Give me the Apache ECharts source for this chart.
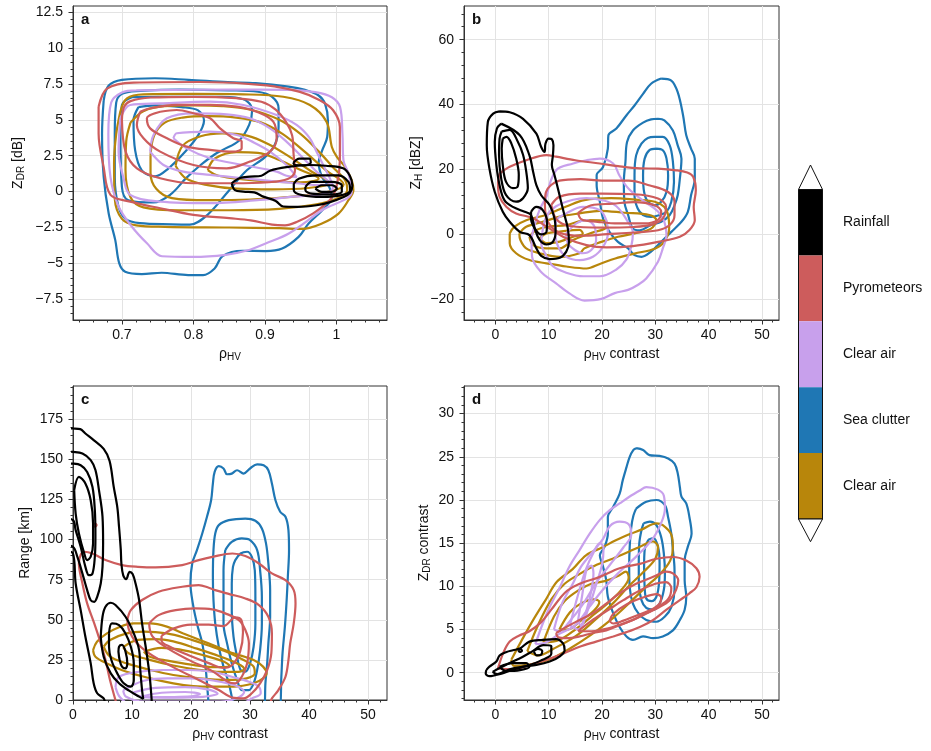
<!DOCTYPE html>
<html><head><meta charset="utf-8">
<script src="https://cdn.jsdelivr.net/npm/echarts@6/dist/echarts.min.js"></script>
<style>html,body{margin:0;padding:0;background:#fff}#c{width:931px;height:751px}</style>
</head><body><div id="c"></div>
<script>
// ---------------- tick labels ----------------
const aXTicks = [0.7, 0.8, 0.9, 1];
const aYTicks = [-7.5, -5, -2.5, 0, 2.5, 5, 7.5, 10, 12.5];
const bXTicks = [0, 10, 20, 30, 40, 50];
const bYTicks = [-20, 0, 20, 40, 60];
const cXTicks = [0, 10, 20, 30, 40, 50];
const cYTicks = [0, 25, 50, 75, 100, 125, 150, 175];
const dXTicks = [0, 10, 20, 30, 40, 50];
const dYTicks = [0, 5, 10, 15, 20, 25, 30];
const classNames = ['Rainfall', 'Pyrometeors', 'Clear air', 'Sea clutter', 'Clear air'];

// ---------------- panel a : rhoHV vs ZDR ----------------
const aSea = [
 [[0.6745,6.34],[0.6815,7.38],[0.70,7.78],[0.746,7.89],[0.793,7.78],[0.848,7.62],[0.887,7.55],[0.933,7.31],[0.956,7.08],[0.975,6.69],[0.984,6.11],[0.988,4.95],[0.987,3.8],[0.98,2.87],[0.975,2.0],[0.98,1.0],[0.99,0.3],[0.9935,-0.37],[0.98,-1.3],[0.961,-2.22],[0.947,-3.15],[0.924,-3.96],[0.901,-4.14],[0.8685,-4.12],[0.8407,-4.49],[0.8296,-5.35],[0.8134,-5.81],[0.7926,-5.81],[0.7556,-5.65],[0.7278,-5.74],[0.7046,-5.58],[0.6963,-5.0],[0.6907,-3.38],[0.6815,-1.53],[0.6745,1.02],[0.6722,4.03]],
 [[0.72,7.0],[0.70,6.8],[0.692,6.2],[0.69,4.0],[0.69,1.0],[0.695,-1.0],[0.705,-1.9],[0.725,-2.2],[0.77,-2.28],[0.795,-2.3],[0.82,-1.6],[0.85,0.1],[0.875,1.5],[0.9,2.4],[0.914,3.3],[0.919,4.5],[0.919,5.8],[0.91,6.6],[0.89,6.95],[0.85,7.05],[0.78,7.1]],
 [[0.714,6.57],[0.70,6.04],[0.698,3.9],[0.70,0.32],[0.709,-0.6],[0.744,-0.76],[0.768,-0.2],[0.789,0.9],[0.81,1.85],[0.83,2.6],[0.841,2.9],[0.864,3.56],[0.878,4.66],[0.882,5.65],[0.8755,6.27],[0.859,6.55],[0.84,6.6],[0.80,6.6],[0.75,6.6]],
 [[0.7231,5.88],[0.7162,4.95],[0.7185,2.87],[0.7278,1.48],[0.7463,1.06],[0.7648,1.6],[0.788,2.75],[0.8065,3.91],[0.8148,4.95],[0.8065,5.65],[0.7833,5.88],[0.7463,6.0]]
];
const aClear2 = [
 [[0.6977,5.56],[0.707,6.49],[0.7302,6.77],[0.80,6.8],[0.8698,6.77],[0.9256,6.6],[0.9628,6.03],[0.986,4.87],[0.9935,3.1],[1.0005,2.41],[1.012,1.71],[1.0213,0.79],[1.0236,0.09],[1.0167,-0.6],[1.0028,-1.53],[0.9796,-2.22],[0.9519,-2.6],[0.92,-2.55],[0.85,-2.5],[0.76,-2.45],[0.72,-2.35],[0.70,-1.9],[0.69,-0.5],[0.689,2.0],[0.692,4.0]],
 [[0.712,4.8],[0.73,5.6],[0.76,5.95],[0.80,6.0],[0.84,5.95],[0.88,5.7],[0.92,5.0],[0.95,4.0],[0.975,2.8],[0.995,1.7],[1.012,0.8],[1.015,0.1],[1.0,-0.5],[0.97,-0.9],[0.92,-1.2],[0.85,-1.3],[0.78,-1.3],[0.73,-1.1],[0.712,-0.4],[0.705,1.5],[0.706,3.5]],
 [[0.74,2.5],[0.745,3.9],[0.76,4.8],[0.785,5.15],[0.82,5.25],[0.86,5.15],[0.895,4.8],[0.925,4.0],[0.955,2.8],[0.985,1.5],[1.01,0.5],[0.99,0.0],[0.94,-0.35],[0.88,-0.55],[0.82,-0.6],[0.77,-0.45],[0.748,0.2],[0.74,1.3]],
 [[0.775,1.8],[0.785,3.2],[0.81,3.85],[0.84,4.05],[0.875,3.9],[0.905,3.3],[0.935,2.4],[0.965,1.4],[0.99,0.6],[0.96,0.25],[0.91,0.15],[0.86,0.2],[0.82,0.45],[0.79,0.9]],
 [[0.82,1.5],[0.83,2.3],[0.86,2.75],[0.89,2.7],[0.92,2.2],[0.95,1.5],[0.975,0.9],[0.95,0.65],[0.91,0.7],[0.87,0.85],[0.835,1.1]]
];
const aClear = [
 [[0.72,7.05],[0.70,6.9],[0.685,6.2],[0.681,4.0],[0.684,1.0],[0.695,-1.0],[0.714,-2.45],[0.735,-3.6],[0.756,-4.5],[0.80,-4.55],[0.845,-4.4],[0.875,-4.1],[0.9009,-3.61],[0.9333,-2.92],[0.9796,-1.3],[1.0213,-0.02],[1.0167,1.25],[1.0097,2.18],[1.0083,4.03],[1.005,5.88],[0.9935,6.57],[0.9704,6.92],[0.9333,7.08],[0.85,7.1]],
 [[0.6977,5.1],[0.7116,6.03],[0.7535,6.14],[0.8233,6.26],[0.8698,6.03],[0.9163,5.33],[0.9442,4.64],[0.9628,3.71],[0.9721,2.78],[0.9814,1.85],[0.9907,0.93],[0.995,0.3],[0.986,-0.12],[0.9395,-0.35],[0.893,-0.58],[0.8233,-0.81],[0.7535,-0.7],[0.7116,-0.23],[0.7023,0.93],[0.6953,2.78]],
 [[0.7395,2.78],[0.7442,3.94],[0.7628,5.1],[0.80,5.45],[0.8465,5.38],[0.879,5.1],[0.907,4.4],[0.93,3.48],[0.9535,2.32],[0.9721,1.39],[0.9907,0.58],[0.9721,0.46],[0.9442,0.58],[0.9163,0.7],[0.8698,0.93],[0.8233,1.16],[0.786,1.39],[0.7581,1.85]],
 [[0.772,3.71],[0.7767,4.06],[0.8233,4.17],[0.8605,3.94],[0.885,3.4],[0.907,2.78],[0.93,1.85],[0.9442,1.0],[0.93,1.1],[0.9163,1.39],[0.8698,1.85],[0.8233,2.32],[0.7906,3.01]]
];
const aPyro = [
 [[0.6674,5.9],[0.6791,7.17],[0.7163,7.59],[0.8093,7.63],[0.9023,7.4],[0.9488,6.94],[0.9767,6.36],[0.9953,5.66],[1.0047,4.5],[1.0047,2.19],[1.0,0.33],[0.9907,-0.59],[0.9674,-1.52],[0.945,-2.1],[0.928,-2.35],[0.91,-2.3],[0.88,-2.0],[0.85,-1.85],[0.80,-1.62],[0.7535,-1.16],[0.7116,-0.7],[0.684,-0.23],[0.6744,1.72],[0.6674,4.04]],
 [[0.70,5.0],[0.703,5.9],[0.712,6.3],[0.74,6.55],[0.80,6.6],[0.86,6.5],[0.895,6.25],[0.915,5.7],[0.93,4.8],[0.938,3.9],[0.94,2.6],[0.942,1.5],[0.935,0.95],[0.9163,0.7],[0.87,0.58],[0.80,0.58],[0.7535,0.93],[0.721,1.62],[0.705,2.8]],
 [[0.7256,5.56],[0.7209,4.64],[0.7302,3.71],[0.7535,2.78],[0.80,1.85],[0.8465,1.62],[0.879,2.09],[0.907,2.78],[0.9163,3.71],[0.9116,4.87],[0.8884,5.56],[0.8605,5.91],[0.8233,6.03],[0.7767,6.03],[0.7395,5.8]],
 [[0.7535,5.56],[0.7767,5.68],[0.80,5.45],[0.8233,5.1],[0.8372,4.4],[0.8558,3.71],[0.8674,3.48],[0.8674,3.01],[0.8558,2.78],[0.8233,2.9],[0.7906,3.13],[0.763,3.71],[0.7395,4.4],[0.7349,5.1]]
];
const aRain = [
 [[0.8535,0.58],[0.865,0.95],[0.879,1.04],[0.895,1.1],[0.907,1.45],[0.93,1.7],[0.9628,1.85],[0.985,1.8],[1.0093,1.62],[1.0186,1.1],[1.0222,0.4],[1.0186,-0.1],[1.0093,-0.4],[0.99,-0.75],[0.972,-0.95],[0.945,-1.06],[0.9256,-1.04],[0.915,-0.65],[0.8977,-0.35],[0.885,-0.05],[0.8698,0.0],[0.858,0.1]],
 [[0.9395,2.0],[0.948,2.3],[0.962,2.3],[0.964,2.0],[0.955,1.82],[0.942,1.85]],
 [[0.9403,0.56],[0.9472,0.9],[0.9704,1.13],[1.0028,1.13],[1.0167,0.67],[1.019,0.09],[1.0074,-0.25],[0.9796,-0.37],[0.9519,-0.25],[0.9403,0.09]],
 [[0.9565,0.32],[0.9657,0.67],[0.9935,0.67],[1.0074,0.44],[1.0074,-0.02],[0.9935,-0.2],[0.9657,-0.14],[0.9565,0.09]],
 [[0.9704,0.21],[0.9796,0.44],[0.9935,0.44],[1.0005,0.21],[0.9935,-0.02],[0.9796,-0.02]]
];

// ---------------- panel b : rhoHV contrast vs ZH ----------------
const bSea = [
 [[31.1,48.0],[33.0,47.4],[34.2,43.8],[35.2,36.7],[35.8,30.5],[36.7,26.4],[37.4,23.3],[37.4,17.1],[36.7,12.0],[36.1,6.9],[34.9,3.8],[33.0,0.7],[31.1,-2.4],[29.2,-5.4],[27.4,-7.0],[26.1,-6.5],[24.9,-4.4],[23.0,-2.4],[21.4,0.7],[20.2,4.8],[19.6,10.0],[19.0,15.1],[19.0,18.2],[20.2,20.7],[21.1,26.4],[21.2,30.5],[22.7,32.6],[24.6,36.7],[26.1,39.7],[27.7,43.3],[29.2,46.4]],
 [[30.5,35.6],[31.7,35.1],[33.3,32.0],[34.2,27.4],[34.9,23.3],[34.6,17.1],[34.2,12.0],[33.6,8.9],[32.7,5.9],[31.1,3.8],[29.2,2.8],[27.1,1.2],[25.8,1.7],[24.9,5.9],[24.2,10.0],[24.1,16.1],[24.4,22.3],[24.7,28.4],[25.8,32.0],[27.7,34.4],[29.2,35.4]],
 [[29.9,30.0],[31.4,30.0],[32.7,27.4],[33.3,22.3],[33.5,16.1],[33.0,10.0],[32.1,6.9],[30.8,5.9],[29.2,5.3],[27.7,5.9],[26.7,7.9],[26.1,12.0],[26.1,18.2],[26.4,24.3],[27.4,27.9],[28.6,29.7]],
 [[30.2,26.4],[31.4,25.9],[32.1,23.3],[32.4,18.2],[32.1,13.0],[31.1,10.0],[29.9,8.9],[28.6,10.0],[27.9,13.0],[27.7,18.2],[28.0,23.3],[28.9,25.9]]
];
const bClear2 = [
 [[2.7,0.2],[3.6,2.3],[5.8,4.3],[9.6,6.0],[13.3,8.5],[16.7,10.5],[21.7,11.1],[26.7,10.6],[29.9,10.0],[31.7,8.4],[32.4,5.9],[32.6,1.7],[31.6,-2.5],[29.9,-4.5],[26.1,-6.0],[22.5,-7.5],[19.6,-9.2],[17.1,-10.6],[13.3,-10.0],[9.6,-9.0],[6.4,-8.0],[3.9,-5.9],[2.7,-2.8]],
 [[4.5,0.2],[5.8,2.3],[8.9,3.8],[12.1,5.4],[15.8,6.4],[19.6,7.2],[24.2,6.6],[28.9,5.9],[30.2,4.3],[29.2,1.7],[26.1,0.2],[23.0,-0.8],[19.9,-2.4],[16.7,-4.4],[15.8,-5.9],[12.1,-7.0],[8.3,-5.9],[5.8,-4.4],[4.7,-1.8]],
 [[6.4,-0.8],[7.7,1.3],[10.2,2.3],[13.3,2.8],[17.1,4.3],[20.8,4.1],[20.8,2.3],[17.7,0.2],[14.6,-1.8],[12.1,-4.4],[9.6,-4.4],[7.1,-3.4]],
 [[8.3,-1.3],[9.6,0.2],[12.1,0.8],[15.8,1.3],[16.4,0.2],[14.6,-0.8],[12.1,-2.3],[9.6,-2.8]]
];
const bClear = [
 [[9.6,11.5],[11.4,19.7],[14.6,21.8],[17.1,22.8],[19.6,23.3],[22.1,21.8],[23.3,18],[25,14],[28,10],[30.5,7],[31.7,3.8],[32.1,-0.3],[31.4,-4.4],[30.5,-8.5],[28.3,-13.7],[26.7,-15.7],[24.9,-17.2],[22.4,-18.2],[19.9,-20.0],[16.7,-20.5],[13.9,-18.3],[11.4,-15.2],[8.5,-11.5],[6.9,-7.0],[6.8,-2.0],[7.5,3.5],[8.3,7.5]],
 [[8.8,0.4],[9.6,5.5],[11.4,8.6],[14.6,10.6],[17.1,11.1],[20.5,10.3],[22.7,8.6],[24.6,4.5],[25.8,0.4],[25.5,-3.7],[24.6,-7.8],[22.7,-10.9],[19.6,-13.0],[16.5,-13.0],[13.3,-11.9],[10.8,-9.9],[9.6,-6.8],[8.6,-2.7]],
 [[11.2,0.2],[11.5,4.3],[13.3,6.4],[16.4,8.4],[19.6,7.4],[20.8,4.3],[21.1,0.2],[20.2,-3.9],[18.3,-7.0],[15.8,-8.0],[13.3,-7.0],[11.8,-3.9]],
 [[13.3,0.2],[15.2,3.3],[17.1,4.3],[18.6,2.3],[18.9,-1.8],[18.0,-4.9],[16.4,-5.9],[14.9,-4.9],[13.6,-2.8]]
];
const bPyro = [
 [[0.8,18.7],[2.7,20.8],[5.8,22.8],[9.6,24.4],[11.4,23.9],[15,22.8],[19.6,21.8],[23,21],[27.1,20.3],[30.5,20.2],[33.9,19.7],[36,19],[37.1,17.7],[37.6,13.6],[37.2,8.4],[37.4,4.3],[36.4,1.3],[34.6,-0.8],[30.8,-2.3],[25.8,-3.7],[20.8,-4.1],[17.1,-3.4],[13.3,-1.3],[9.6,2.3],[7.1,4.9],[3.9,6.4],[2.1,8.4],[0.8,11.5],[0.5,15.6]],
 [[9.3,9],[9.5,13],[12,16.5],[16,17],[20,16.5],[25,16.5],[29,15],[32.4,13],[33.6,10],[33.6,5.8],[32.7,2.8],[30.5,1.2],[26,0.5],[21,0],[16,-0.5],[12,0.5],[9.8,4]],
 [[10.5,9],[12,11.5],[16,12.5],[20,12.5],[26,12.3],[30.5,11],[32,8.5],[31.5,5],[29.5,3],[26,2.2],[20,2],[14,2.5],[11.5,4.5]],
 [[15.5,6.5],[18,8.9],[22,9.4],[26,9.9],[29.9,8.9],[31.1,6.9],[30.5,4.4],[28,3.3],[23,3.3],[19.2,3.8],[16.2,4.5]]
];
const bRain = [
 [[0.8,37.9],[2.7,37.6],[5.2,35.6],[7.7,31.0],[8.6,26.9],[9.25,25.4],[9.4,27.9],[10.0,29.5],[10.6,29.3],[10.9,27.4],[10.8,24.3],[10.6,21.3],[11.1,18.2],[11.9,13.0],[12.8,6.9],[13.6,1.7],[13.8,-2.4],[13.3,-5.4],[12.1,-7.3],[10.2,-7.7],[8.6,-6.7],[7.7,-4.4],[6.4,-0.3],[4.6,0.7],[2.7,3.8],[1.4,6.9],[-0.1,13.0],[-1.1,20.2],[-1.6,27.4],[-1.4,34.6],[-0.4,37.2]],
 [[1.1,34.1],[4.6,30.5],[6.4,24.3],[7.1,19.2],[7.7,15.1],[8.6,12.0],[10.2,8.9],[11.1,4.8],[11.3,0.7],[10.8,-2.4],[9.6,-3.2],[8.3,-1.8],[7.4,1.7],[6.7,5.9],[5.5,6.9],[3.3,8.4],[1.7,10.5],[0.8,15.1],[0.2,21.3],[-0.1,28.4],[0.3,32.6]],
 [[1.2,31.7],[2.7,32.2],[4.2,28.6],[5.2,24.5],[5.8,19.3],[6.1,14.2],[5.2,11.1],[3.9,10.0],[2.0,12.1],[1.1,17.2],[0.7,24.4],[0.8,29.5]],
 [[1.4,29.5],[2.1,30.0],[3.0,28.0],[3.9,23.4],[4.4,18.3],[4.2,14.7],[3.3,14.2],[2.0,16.2],[1.4,21.3],[1.2,26.4]],
 [[6.7,6.9],[7.7,8.4],[8.9,7.4],[9.7,3.8],[9.6,0.7],[8.6,-0.1],[7.4,1.7],[6.7,4.8]]
];

// ---------------- panel c : rhoHV contrast vs range ----------------
const cSea = [
 [[23.0,-4],[22.7,10.4],[22.4,22.8],[21.9,35.3],[21.0,47.7],[20.3,60.2],[19.9,72.6],[20.2,85.1],[21.0,93.4],[21.9,103.8],[22.7,114.2],[23.4,124.5],[23.7,134.9],[24.0,142.2],[24.7,145.7],[25.5,144.3],[26.1,140.7],[26.9,141.1],[27.8,143.2],[28.9,141.1],[30.0,144.3],[31.2,146.9],[32.3,146.3],[33.1,143.2],[33.7,134.9],[34.3,124.5],[35.1,117.3],[36.0,114.2],[36.5,105.9],[36.6,93.4],[36.4,76.8],[36.2,62.3],[35.9,45.7],[35.5,29.1],[35.3,14.5],[35.0,-4]],
 [[27.2,-4],[26.4,10.4],[25.5,20.8],[24.7,33.2],[24.1,47.7],[23.8,62.3],[23.7,76.8],[23.8,93.4],[24.1,103.8],[24.7,109.0],[26.4,112.1],[29.2,113.1],[30.9,111.7],[32.0,106.9],[32.7,97.6],[33.1,85.1],[33.4,68.5],[33.4,51.9],[33.1,35.3],[32.9,22.8],[32.6,10.4],[32.4,-4]],
 [[25.8,93.4],[26.9,98.6],[28.6,100.7],[30.0,99.6],[31.2,93.4],[31.7,80.9],[32.0,64.3],[32.0,47.7],[31.7,31.1],[31.2,18.7],[30.6,10.4],[29.8,6.2],[28.6,6.2],[27.8,12.5],[26.9,22.8],[26.1,35.3],[25.5,47.7],[25.5,64.3],[25.5,80.9]],
 [[27.5,87.2],[28.4,91.3],[29.5,92.4],[30.3,89.2],[30.8,80.9],[30.9,64.3],[30.9,47.7],[30.6,33.2],[30.0,22.8],[29.2,17.6],[28.4,18.7],[27.8,27.0],[27.2,39.4],[26.9,56.0],[26.9,72.6],[27.1,83.0]]
];
const cClear2 = [
 [[3.4,31.1],[4.06,36.3],[5.75,41.5],[8.0,45.7],[10.3,47.7],[13.1,47.7],[15.9,45.7],[18.7,41.5],[21.5,37.4],[24.4,33.2],[27.2,29.1],[30.6,24.9],[32.2,20.8],[32.8,16.6],[32.2,13.5],[30.6,10.4],[27.2,8.3],[23.8,8.3],[20.4,8.7],[17.0,10.4],[13.1,13.5],[9.1,17.6],[5.75,22.8],[3.8,27.0]],
 [[5.2,33.2],[6.3,37.4],[9.1,41.5],[12.0,42.6],[15.9,41.5],[19.3,38.4],[22.7,34.3],[26.0,30.1],[28.9,24.9],[30.6,20.8],[30.8,16.6],[29.4,13.5],[26.0,12.5],[21.5,13.5],[17.0,15.6],[13.1,18.7],[9.1,22.8],[6.3,27.0]],
 [[8.5,33],[11,37.5],[14,38],[17,36.5],[21,32],[25,27],[28,22.5],[29,19.5],[28,17.5],[25,17.5],[21,19],[17,21.5],[12.5,25.5],[9.5,29]],
 [[12,30],[15,32.5],[18,31.5],[22,28],[25.5,24],[26.5,21.5],[24,20.5],[20,22],[16,24.5],[13,27]]
];
const cClear = [
 [[7.2,8],[7.8,14.5],[11.2,17.6],[15.1,18.7],[19.6,18.7],[23.6,17.6],[26.9,14.5],[29.8,11.4],[31.5,8.3],[31.8,4.2],[30.3,1.0],[28,-3],[10,-3],[8,1.5]],
 [[8.5,6],[12,12],[16,13.5],[20,13.5],[24,12],[27.5,9],[29,5],[28,1.5],[25,-1],[12,-1],[9,2]],
 [[10,4.5],[14,7.5],[19,8],[23,6.5],[24.5,4],[22,2],[17,1.5],[12,1.8]],
 [[12,2.5],[15,4.5],[19,5],[21.5,3.8],[20,2.2],[16,1.8],[13,1.7]]
];
const cPyro = [
 [[7.5,-4],[6.3,12],[5.5,25],[4.7,35.3],[3.6,47.7],[2.4,60.2],[1.6,72.6],[1.0,85],[1.3,90.5],[1.9,92.4],[3.3,91.3],[5.5,87.2],[8.3,84.1],[11,83],[14.0,82.6],[18.5,84.1],[21.3,87.2],[23.6,89.2],[27.0,91.3],[29.2,89.7],[31.5,85.1],[33.7,78.9],[36.0,74.7],[37.4,68.5],[37.7,60.2],[37.4,47.7],[36.8,35.3],[36.5,24.9],[36.0,14.5],[34.8,6.2],[33.7,1.0],[33.0,-4]],
 [[9.2,49.8],[9.8,56.0],[11.7,62.3],[14.5,67.5],[18.5,70.6],[21.3,71.6],[23.0,70],[24.1,68.5],[26.5,66],[29.2,63.3],[31.5,59.2],[33.1,51.9],[33.7,41.5],[33.6,29.1],[32.9,18.7],[31.7,10.4],[30.3,4.2],[28.9,1.0],[27,1.5],[24.7,6.2],[21.3,12.5],[16.8,20.8],[12.9,29.1],[10.6,36.3],[9.5,43.6]],
 [[12.9,47.7],[14.5,52.9],[17.4,56.0],[20.7,57.1],[23.6,56.5],[25.8,54.0],[28.1,49.8],[29.2,43.6],[29.8,35.3],[29.5,22.8],[28.6,14.5],[27.5,10.4],[26.4,11],[23.6,18],[19.6,25],[15.7,33],[13.4,40]],
 [[15,40],[17,44.5],[20,47],[23,47],[25.5,46],[27.5,51.5],[28.5,50],[28.8,42],[28.3,30],[27,22],[25.5,20],[23,23],[19.5,28],[16.5,33],[15,37]],
 [[3.4,109],[3.7,110],[4.0,109],[3.7,108]]
];
const cRain = [
 [[-2,169.5],[0,169.2],[1.24,168.8],[2.1,166.1],[3.5,162.0],[5.2,156.5],[6.2,149],[6.9,132.8],[7.5,120.4],[7.8,107.9],[8.1,93.4],[8.2,85.1],[8.5,77.8],[9.0,75.3],[9.6,79.9],[10.1,78.5],[10.6,72.6],[11.2,62.3],[11.7,47.7],[12.4,31.1],[13.0,14.5],[13.4,-4],[5.8,-4],[5.2,1.0],[4.1,4.2],[3.5,10.4],[3.0,22.8],[2.1,39.4],[1.3,56.0],[0.45,72.6],[0,91.3],[-2,95]],
 [[-2,155],[0,154.6],[1.6,153.6],[3.0,149.5],[3.8,143.3],[4.4,130.8],[5.0,114.2],[5.1,97.6],[5.0,83.0],[4.7,72.6],[4.1,64.3],[3.6,61.2],[3.0,62.2],[2.4,68.5],[1.6,78.8],[0.73,89.3],[0,95.5],[-2,98]],
 [[-2,147.5],[0,147.3],[1.3,146.3],[2.4,142.1],[3.3,132.8],[3.7,118.3],[3.8,101.7],[3.7,89.3],[3.3,78.8],[2.7,77.8],[2.1,83.0],[1.3,95.5],[0.45,105.9],[0,112.1],[-2,115]],
 [[0.2,130.8],[1.0,139.1],[2.1,134.9],[3.0,124.5],[3.4,110.0],[3.4,97.6],[3.0,89.3],[2.4,87.2],[1.9,91.4],[1.0,103.8],[0.45,116.2]],
 [[4.7,39.4],[5.0,51.9],[5.5,58.1],[6.4,60.6],[7.2,59.2],[8.9,51.9],[10.3,41.5],[11.2,31.1],[11.4,18.7],[11.7,6.2],[11.9,0.8],[11.2,2.1],[9.5,5.8],[7.8,10.4],[6.4,16.6],[5.2,27.0]],
 [[6.1,41.5],[6.6,47.7],[7.8,46.7],[8.9,41.5],[9.8,33.2],[10.3,22.8],[10.3,12.5],[9.8,8.3],[8.6,10.4],[7.5,16.6],[6.5,24.9],[6.1,33.2]],
 [[7.7,30.1],[7.8,33.2],[8.3,34.3],[8.9,30.1],[9.2,22.8],[8.9,19.7],[8.3,20.8],[7.9,24.9]]
];

// ---------------- panel d : rhoHV contrast vs ZDR contrast ----------------
const dSea = [
 [[26.4,26.0],[27.7,25.8],[28.9,25.2],[30.8,25.1],[32.4,24.8],[33.6,24.2],[34.2,23.1],[34.6,21.5],[34.9,20.4],[35.8,19.6],[36.4,18.0],[36.8,16.1],[36.1,14.6],[35.5,13.0],[35.5,10.7],[35.8,8.8],[35.5,7.3],[34.6,6.1],[33.3,4.9],[31.4,4.2],[29.6,4.0],[27.7,4.2],[25.8,3.8],[24.6,4.2],[23.3,5.3],[22.1,6.9],[21.1,8.8],[20.8,10.7],[20.2,12.3],[19.6,13.6],[20.5,14.6],[21.1,16.1],[21.1,18.0],[22.1,19.2],[23.3,20.7],[23.9,22.3],[24.6,23.8],[25.2,25.0],[25.9,25.8]],
 [[26.4,19.0],[28.3,19.8],[30.2,20.0],[31.8,19.4],[32.4,18.0],[33.0,16.1],[33.3,14.2],[33.6,11.9],[33.6,9.6],[33.0,7.6],[31.8,6.5],[30.2,5.9],[28.3,6.1],[26.8,6.9],[25.8,8.0],[25.2,9.9],[25.1,12.3],[25.2,14.6],[25.5,16.9],[25.9,18.2]],
 [[27.8,17.3],[29.0,17.5],[30.2,17.1],[31.1,15.7],[31.6,13.8],[31.8,11.5],[31.6,9.6],[30.8,8.0],[29.6,7.3],[28.3,7.5],[27.4,8.4],[26.9,10.4],[26.9,12.7],[27.0,15.0],[27.4,16.5]],
 [[28.7,15.4],[29.6,15.6],[30.5,14.6],[30.8,12.7],[30.7,10.4],[30.2,8.8],[29.3,8.3],[28.3,8.6],[28.0,10.0],[27.9,12.3],[28.0,14.2]]
];
const dClear2 = [
 [[3,1.5],[5,3.8],[7,6],[9.5,8.5],[11.5,10.5],[14.5,12],[17,13.6],[20,14.5],[22.5,15.3],[25,16],[27.5,16.6],[30.2,17.3],[31.4,17.1],[33,16],[33.3,14.5],[32.8,13],[31,11.5],[28,9.8],[25,8],[22,6.3],[18,4.4],[14,2.8],[10,1.5],[6,0.9],[3.5,0.8]],
 [[6,2.5],[8,5.5],[10.5,8.5],[13,10.3],[16,11.5],[19,12.5],[22,13.2],[25,14],[27.5,14.7],[29.5,15.2],[30.5,14.6],[30,13.2],[28,11.8],[25,10],[22,8],[18.5,6],[15,4.2],[11,2.8],[8,2]],
 [[9,3.5],[11,6.5],[13,8.3],[15.5,9.5],[18,10.3],[20.5,10.6],[23,11.2],[24.5,11.7],[25,11],[23.5,9.5],[21,8],[18,6.5],[15,5],[12,3.8]],
 [[12,5],[14,7],[16,8],[18.5,8.5],[19.5,8.2],[18.5,7.2],[16,6],[13.5,5]]
];
const dClear = [
 [[7.5,3.3],[8.9,5.7],[10.2,7.6],[12.1,9.9],[13.9,12.3],[15.8,14.2],[17.7,16.1],[19.6,17.7],[21.4,18.8],[23.3,19.6],[25.2,20.4],[27.1,21.1],[28.3,21.5],[30.5,21.2],[31.6,20.5],[31.8,19],[31.2,17.5],[29.5,15.5],[26.5,13.5],[23,11.5],[20,9.5],[17.5,7.5],[15,5.5],[12,4.5],[9.5,3.5]],
 [[11,5],[12.5,8],[14.6,10.4],[16,12.2],[18,13.8],[20.2,15.5],[21.5,17],[23.3,17.5],[25.0,17.2],[25.5,16],[24,14.5],[21.5,12.5],[19,10.5],[16.5,8],[14,6],[12,4.8]],
 [[14,5.5],[15.5,9],[17,12],[18.5,14],[19.6,15],[20.3,14.5],[20,12.5],[18.8,10],[17.5,7.5],[15.5,5]],
 [[15.5,6],[16.3,9],[17.1,11.9],[18,12.4],[18.4,11.5],[18,9.5],[17,7],[16,5.5]]
];
const dPyro = [
 [[0.5,0.5],[1.5,2.3],[2.7,3.6],[4.5,4.3],[6.4,4.8],[8.5,5.8],[10.5,7.3],[12.1,8.6],[13.5,9.5],[15.8,10.3],[19.6,11.1],[23.3,12.1],[27.1,12.6],[30.2,13.2],[33.3,13.4],[35.8,13.0],[37.7,12.1],[38.3,11.1],[37.7,9.9],[36.4,9.2],[34.6,8.4],[32.1,7.3],[29.6,6.1],[27.1,5.3],[24.6,4.7],[22.1,4.2],[18.9,3.6],[15.8,3.0],[12.7,2.2],[9.6,1.5],[6.4,0.9],[3.3,0.4]],
 [[11.4,4.6],[13.3,5.3],[15.8,6.1],[18.3,6.9],[20.8,8.0],[23.3,9.2],[26.4,10.3],[29.6,11.1],[32.1,11.7],[33.3,11.5],[34.3,10.7],[33.9,9.6],[32.7,8.4],[30.8,7.6],[28.3,6.9],[25.8,6.1],[23.3,5.5],[20.8,4.9],[18.3,4.6],[15.8,4.2],[13.3,4.0],[11.8,4.1]],
 [[15.5,4.8],[18,6],[21,7.2],[24,8.4],[27,9.5],[30,10.3],[32,10.5],[33,9.8],[32.5,8.6],[30.5,7.6],[27.5,6.6],[24.5,5.8],[21,5.1],[18,4.8]],
 [[21.4,6.0],[22.1,6.8],[24.6,7.9],[27.7,8.7],[30.2,9.1],[31.1,8.7],[30.8,8.0],[28.9,7.2],[26.4,6.6],[23.9,6.0],[22.1,5.7]]
];
const dRain = [
 [[-1.7,0.3],[-1.1,0.7],[0.2,1.3],[0.8,2.0],[2.1,2.4],[3.3,2.6],[4.6,2.8],[6.4,3.6],[8.9,3.8],[11.4,3.9],[12.7,3.4],[13.0,2.6],[12.1,1.9],[10.2,1.3],[7.7,0.9],[5.2,0.7],[2.7,0.4],[0.8,-0.1],[-1.1,-0.4],[-1.8,-0.1]],
 [[-0.5,0.1],[1,0.6],[3,1.2],[5,1.8],[7,2.5],[9,3.2],[10.5,3.1],[10.5,2.2],[8.5,1.4],[6,0.8],[3,0.3],[0.5,-0.2]],
 [[0.8,0.7],[3.3,1.1],[5.8,1.1],[6.4,0.7],[4.6,0.3],[2.1,0.2]],
 [[7.2,2.5],[8.0,2.75],[8.8,2.5],[8.6,2.1],[7.8,2.0]],
 [[4.3,2.6],[4.7,2.75],[5.0,2.55],[4.6,2.4]]
];

// ---------------- styling ----------------
const FONT = '"Liberation Sans", Arial, Helvetica, sans-serif';
const COL = {rain:'#000000', pyro:'#cd5c5c', clear:'#c8a0ec', sea:'#1f77b4', clear2:'#b8860b'};
const barColors = [COL.rain, COL.pyro, COL.clear, COL.sea, COL.clear2];

function range(a, b, s) { const r = []; for (let v = a; v <= b + 1e-9; v += s) r.push(+v.toFixed(6)); return r; }
const fmt = v => String(+(+v).toFixed(4)).replace('-', '\u2212');
const rich = {
  r: {fontSize: 14, color: '#111', fontFamily: FONT},
  s: {fontSize: 10, color: '#111', fontFamily: FONT, padding: [5, 0, 0, 0]}
};

const panels = [
  {grid: {left: 73, top: 6, width: 314, height: 314}, x: [0.6316, 1.0706], y: [-8.94, 12.92],
   xMaj: aXTicks, xMin: range(0.64, 1.06, 0.02), yMaj: aYTicks, yMin: range(-8.5, 12.5, 0.5),
   xName: '{r|ρ}{s|HV}', yName: '{r|Z}{s|DR}{r| [dB]}', yGap: 47, letter: 'a',
   sets: [[aSea, COL.sea], [aClear2, COL.clear2], [aClear, COL.clear], [aPyro, COL.pyro], [aRain, COL.rain]]},
  {grid: {left: 464, top: 6, width: 315, height: 314}, x: [-5.87, 53.19], y: [-26.5, 70.4],
   xMaj: bXTicks, xMin: range(-4, 52, 2), yMaj: bYTicks, yMin: range(-24, 68, 4),
   xName: '{r|ρ}{s|HV}{r| contrast}', yName: '{r|Z}{s|H}{r| [dBZ]}', yGap: 40, letter: 'b',
   sets: [[bSea, COL.sea], [bClear2, COL.clear2], [bClear, COL.clear], [bPyro, COL.pyro], [bRain, COL.rain]]},
  {grid: {left: 73, top: 386, width: 314, height: 314}, x: [0, 53.2], y: [0, 195.7],
   xMaj: cXTicks, xMin: range(0, 52, 2), yMaj: cYTicks, yMin: range(0, 195, 5),
   xName: '{r|ρ}{s|HV}{r| contrast}', yName: '{r|Range [km]}', yGap: 41, letter: 'c',
   sets: [[cSea, COL.sea], [cClear2, COL.clear2], [cClear, COL.clear], [cPyro, COL.pyro], [cRain, COL.rain]]},
  {grid: {left: 464, top: 386, width: 315, height: 314}, x: [-5.87, 53.19], y: [-3.16, 33.2],
   xMaj: dXTicks, xMin: range(-4, 52, 2), yMaj: dYTicks, yMin: range(-3, 33, 1),
   xName: '{r|ρ}{s|HV}{r| contrast}', yName: '{r|Z}{s|DR}{r| contrast}', yGap: 32, letter: 'd',
   sets: [[dSea, COL.sea], [dClear2, COL.clear2], [dClear, COL.clear], [dPyro, COL.pyro], [dRain, COL.rain]]}
];

const grids = [], xAxes = [], yAxes = [], series = [], titles = [];
panels.forEach((p, i) => {
  grids.push(Object.assign({show: true, borderColor: '#333', borderWidth: 1, backgroundColor: 'rgba(0,0,0,0)',
    containLabel: false, outerBoundsMode: 'none'}, p.grid));
  const lab = {color: '#111', fontSize: 14, fontFamily: FONT, formatter: fmt};
  xAxes.push({type: 'value', gridIndex: i, position: 'bottom', min: p.x[0], max: p.x[1],
    axisLine: {show: true, onZero: false, lineStyle: {color: '#333', width: 1}},
    axisTick: {show: true, customValues: p.xMaj, length: 4.5, lineStyle: {color: '#333'}},
    axisLabel: Object.assign({customValues: p.xMaj, margin: 8}, lab),
    splitLine: {show: true, lineStyle: {color: '#e3e3e3', width: 1}},
    name: p.xName, nameLocation: 'middle', nameGap: 27, nameTextStyle: {rich}});
  xAxes.push({type: 'value', gridIndex: i, position: 'bottom', min: p.x[0], max: p.x[1],
    axisLine: {show: false, onZero: false}, axisLabel: {show: false}, splitLine: {show: false},
    axisTick: {show: true, customValues: p.xMin, length: 2.5, lineStyle: {color: '#333'}}});
  yAxes.push({type: 'value', gridIndex: i, position: 'left', min: p.y[0], max: p.y[1],
    axisLine: {show: true, onZero: false, lineStyle: {color: '#333', width: 1}},
    axisTick: {show: true, customValues: p.yMaj, length: 4.5, lineStyle: {color: '#333'}},
    axisLabel: Object.assign({customValues: p.yMaj, margin: 10}, lab),
    splitLine: {show: true, lineStyle: {color: '#e3e3e3', width: 1}},
    name: p.yName, nameLocation: 'middle', nameRotate: 90, nameGap: p.yGap, nameTextStyle: {rich}});
  yAxes.push({type: 'value', gridIndex: i, position: 'left', min: p.y[0], max: p.y[1],
    axisLine: {show: false, onZero: false}, axisLabel: {show: false}, splitLine: {show: false},
    axisTick: {show: true, customValues: p.yMin, length: 2.5, lineStyle: {color: '#333'}}});
  p.sets.forEach(([contours, color]) => {
    contours.forEach(c => {
      series.push({type: 'line', xAxisIndex: 2 * i, yAxisIndex: 2 * i, data: c.concat([c[0]]),
        smooth: 0.35, symbol: 'none', showSymbol: false, clip: true, silent: true,
        lineStyle: {color: color, width: 2.2}, itemStyle: {color: color}});
    });
  });
  titles.push({text: p.letter, left: p.grid.left + 8, top: p.grid.top + 6, padding: 0,
    textStyle: {fontSize: 15, fontWeight: 'bold', color: '#111', fontFamily: FONT}});
});

// colorbar (legend of the classes)
const cb = {x: 798.5, top: 189.5, w: 24, seg: 65.9};
const graphic = [];
barColors.forEach((c, k) => {
  graphic.push({type: 'rect', shape: {x: cb.x, y: cb.top + k * cb.seg, width: cb.w, height: cb.seg}, style: {fill: c}});
  graphic.push({type: 'text', x: 843, y: cb.top + (k + 0.5) * cb.seg,
    style: {text: classNames[k], fill: '#111', font: '14px ' + FONT, textVerticalAlign: 'middle', verticalAlign: 'middle'}});
});
graphic.push({type: 'rect', shape: {x: cb.x, y: cb.top, width: cb.w, height: 5 * cb.seg}, style: {fill: 'none', stroke: '#111', lineWidth: 1}});
graphic.push({type: 'polygon', shape: {points: [[cb.x, cb.top], [cb.x + cb.w, cb.top], [cb.x + cb.w / 2, 165]]}, style: {fill: '#fff', stroke: '#111', lineWidth: 1}});
graphic.push({type: 'polygon', shape: {points: [[cb.x, cb.top + 5 * cb.seg], [cb.x + cb.w, cb.top + 5 * cb.seg], [cb.x + cb.w / 2, 541.7]]}, style: {fill: '#fff', stroke: '#111', lineWidth: 1}});

const chart = echarts.init(document.getElementById('c'), null, {renderer: 'canvas'});
chart.setOption({
  animation: false,
  backgroundColor: '#ffffff',
  textStyle: {fontFamily: FONT},
  title: titles,
  grid: grids,
  xAxis: xAxes,
  yAxis: yAxes,
  series: series,
  graphic: graphic
});
</script></body></html>
